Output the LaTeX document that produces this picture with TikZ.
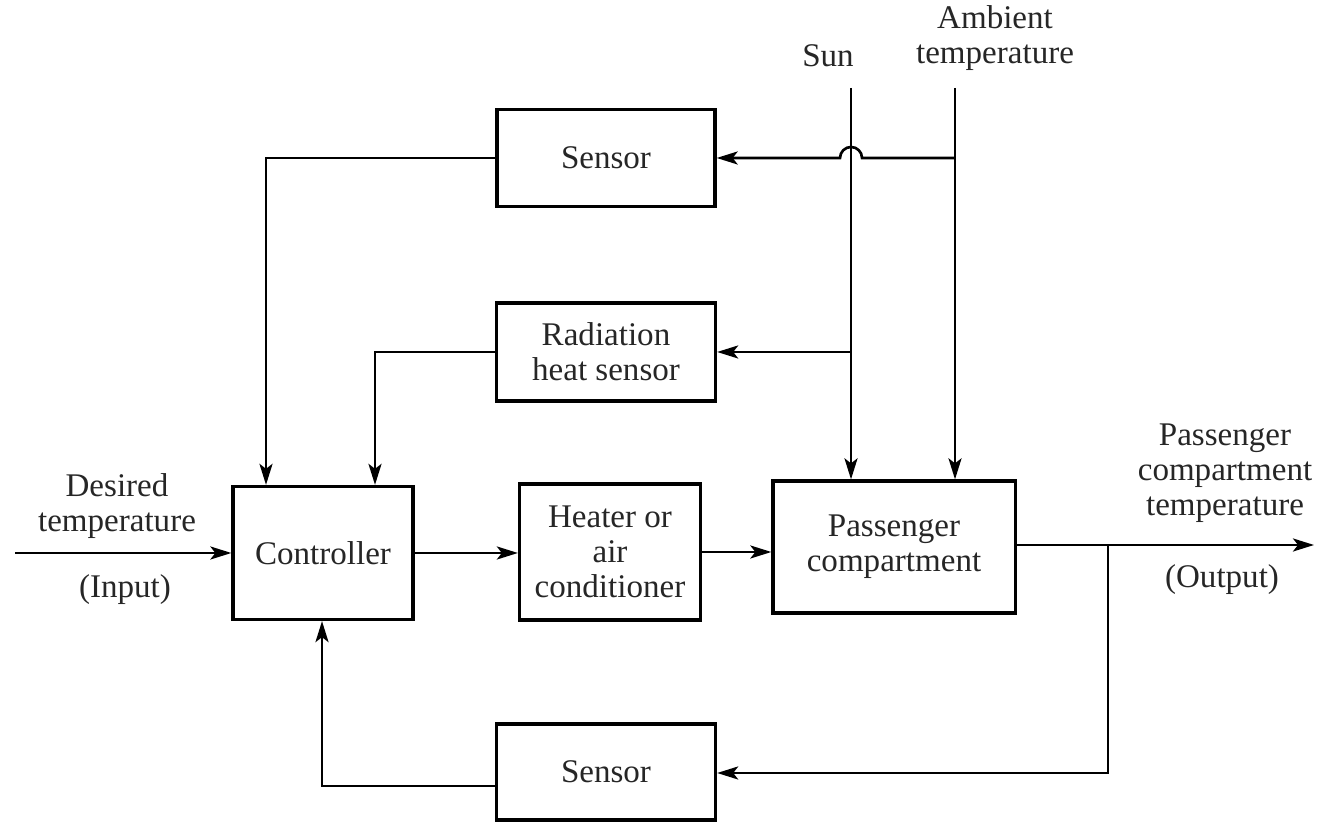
\documentclass[tikz,border=0pt]{standalone}
\usepackage{fontspec}
\setmainfont{Liberation Serif}
\usetikzlibrary{arrows.meta}
\begin{document}
\begin{tikzpicture}[x=0.01cm,y=0.01cm,
  every node/.style={font=\fontsize{9.4}{10}\selectfont, text=black!85},
  blk/.style={draw, line width=0.9pt, align=center, inner sep=0pt},
  lbl/.style={align=center, inner sep=0pt},
  wire/.style={line width=0.75pt},
  arr/.style={wire, -{Stealth[length=2.1mm,width=1.3mm,inset=0.5mm]}}]
\useasboundingbox (0,0) rectangle (1322,822);

% blocks
\node[blk, minimum width=2.18cm, minimum height=0.97cm] (sensT) at (606,664) {Sensor};
\node[blk, minimum width=2.19cm, minimum height=0.98cm] (rad) at (606,470) {Radiation\\heat sensor};
\node[blk, minimum width=1.80cm, minimum height=1.33cm] (ctrl) at (323,269) {Controller};
\node[blk, minimum width=1.81cm, minimum height=1.36cm] (heat) at (610,270) {Heater or\\air\\conditioner};
\node[blk, minimum width=2.42cm, minimum height=1.32cm] (comp) at (894,275) {Passenger\\compartment};
\node[blk, minimum width=2.19cm, minimum height=0.96cm] (sensB) at (606,50) {Sensor};

% labels
\node[lbl] (sun) at (828,766) {Sun};
\node[lbl] (amb) at (995,784) {Ambient\\temperature};
\node[lbl] (des) at (117,316) {Desired\\temperature};
\node[lbl] (inp) at (125,232) {(Input)};
\node[lbl] (pct) at (1225,349) {Passenger\\compartment\\temperature};
\node[lbl] (outp) at (1222,242) {(Output)};

% free ends, corners and junctions
\coordinate (sunTop) at (851,734);
\coordinate (ambTop) at (955,734);
\coordinate (inStart) at (15,269);
\coordinate (outEnd) at (1314,277);
\coordinate (fbTap) at (1108,277);
\coordinate (fbCorner) at (1108,49);
\coordinate (ambTap) at (955,664);
\coordinate (hopR) at (862,664);
\coordinate (sunTap) at (851,470);
\coordinate (sTcorner) at (266,664);
\coordinate (radCorner) at (375,470);
\coordinate (sBleft) at (497,36);
\coordinate (sBcorner) at (322,36);

% disturbances into the compartment
\draw[arr] (sunTop) -- (sunTop |- comp.north);
\draw[arr] (ambTop) -- (ambTop |- comp.north);

% ambient temperature to top sensor, hopping over the sun line
\draw[arr] (ambTap) -- (hopR) arc[start angle=0, end angle=180, radius=11] -- (sensT.east);

% sun to radiation sensor
\draw[arr] (sunTap) -- (rad.east);

% sensors into the controller
\draw[arr] (sensT.west) -- (sTcorner) -- (sTcorner |- ctrl.north);
\draw[arr] (rad.west) -- (radCorner) -- (radCorner |- ctrl.north);

% forward path
\draw[arr] (inStart) -- (inStart -| ctrl.west);
\draw[arr] (ctrl.east) -- (ctrl.east -| heat.west);
\draw[arr] (heat.east) -- (heat.east -| comp.west);
\draw[arr] (comp.east |- outEnd) -- (outEnd);

% feedback through the bottom sensor
\draw[arr] (fbTap) -- (fbCorner) -- (fbCorner -| sensB.east);
\draw[arr] (sBleft -| sensB.west) -- (sBcorner) -- (sBcorner |- ctrl.south);
\end{tikzpicture}
\end{document}
